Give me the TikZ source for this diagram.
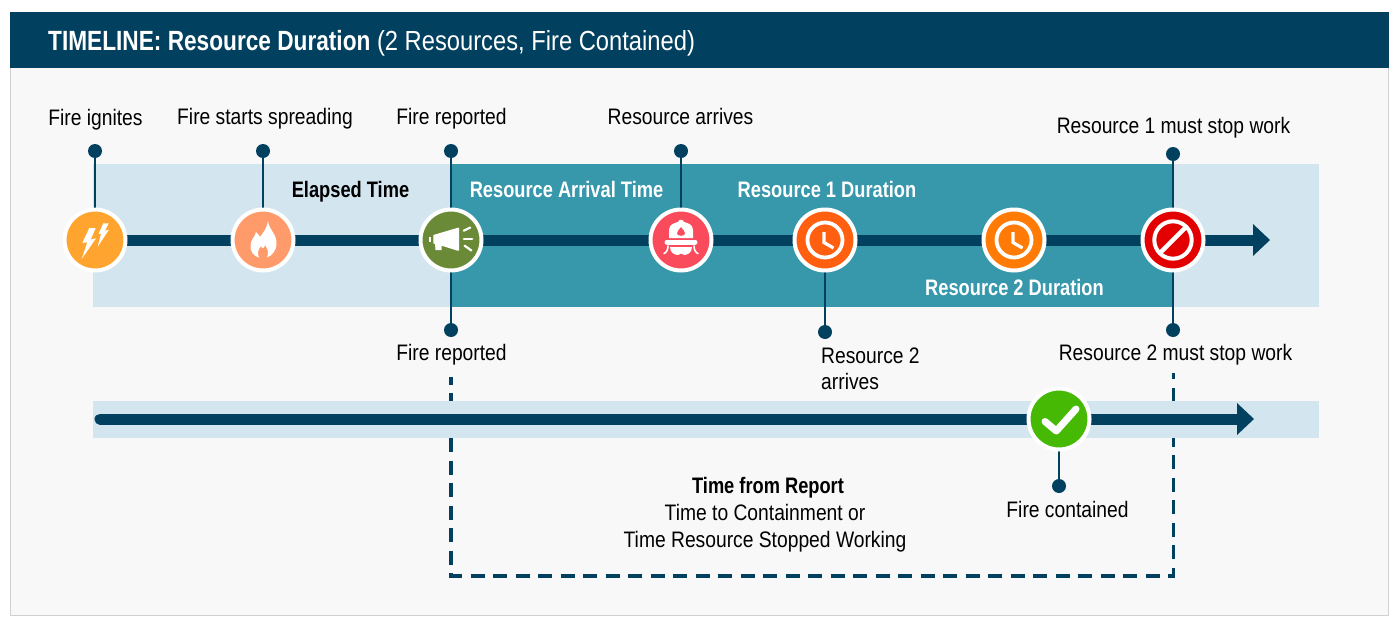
\documentclass[tikz,border=0pt]{standalone}
\usepackage{fontspec}
\setmainfont[FakeStretch=0.86]{Liberation Sans}
\newfontfamily\bcfont[FakeStretch=0.815]{Liberation Sans Bold}
\definecolor{navy}{HTML}{02405F}
\definecolor{panel}{HTML}{F8F8F8}
\definecolor{bandlight}{HTML}{D3E5EF}
\definecolor{bandteal}{HTML}{3797AB}
\definecolor{cOrange}{HTML}{FFA52F}
\definecolor{cFlame}{HTML}{FF9A6B}
\definecolor{cOlive}{HTML}{6A8A37}
\definecolor{cHelmet}{HTML}{F94B5C}
\definecolor{cClockA}{HTML}{FF5F0F}
\definecolor{cClockB}{HTML}{FF7B06}
\definecolor{cStop}{HTML}{E30000}
\definecolor{cCheck}{HTML}{46B905}
\tikzset{
  x=1pt,y=-1pt,
  evt/.style={circle,fill=#1,draw=white,line width=4pt,minimum size=61pt,inner sep=0pt},
  dot/.style={circle,fill=navy,minimum size=14pt,inner sep=0pt},
  lbl/.style={font=\fontsize{22.4}{26}\selectfont,inner sep=0pt,text=black,anchor=base},
  lblb/.style={lbl,font=\fontsize{22.4}{26}\bcfont\selectfont},
  lblw/.style={lblb,text=white},
  conn/.style={draw=navy,line width=2.6pt},
  axisline/.style={draw=navy,line width=11pt},
  dashline/.style={draw=navy,line width=3.5pt,dash pattern=on 14pt off 8.5pt,dash phase=6.5pt},
  ic/.style={fill=white,draw=none},
  icl/.style={draw=white,line cap=round,line join=round},
}
\begin{document}
\begin{tikzpicture}
\useasboundingbox (0,0) rectangle (1400,624);
\fill[white] (0,0) rectangle (1400,624);
\draw[fill=panel,draw=black!18,line width=1pt] (10.5,12.5) rectangle (1388,615);
\fill[navy] (10,12) rectangle (1388.5,68);
\node[anchor=base west,inner sep=0pt,text=white,font=\fontsize{27.6}{30}\selectfont] (title) at (48,50) {{\fontsize{27.8}{30}\bcfont\selectfont TIMELINE: Resource Duration} (2 Resources, Fire Contained)};
% anchors
\coordinate (a1s) at (95,240);
\coordinate (a1e) at (1254,240);
\coordinate (a1t) at (1270,240);
\coordinate (a2s) at (100,419);
\coordinate (a2e) at (1238,419);
\coordinate (a2t) at (1254,419);
\coordinate (dL) at (451,377);
\coordinate (dLb) at (451,576);
\coordinate (dRb) at (1173.5,576);
\coordinate (dR) at (1173.5,372.7);
% dashed
\draw[dashline] (dL) -- (dLb) -- (dRb) -- (dR);
% bands
\fill[bandlight] (93,164) rectangle (1319,307);
\fill[bandteal] (451,164) rectangle (1173,307);
\fill[bandlight] (93,401) rectangle (1319,438);
% axes
\draw[axisline] (a1s) -- (a1e);
\fill[navy] (1253,224) -- (a1t) -- (1253,256) -- cycle;
\draw[axisline,line cap=round] (a2s) -- (a2e);
\fill[navy] (1237,403) -- (a2t) -- (1237,435) -- cycle;
% dots
\node[dot] (d1) at (95,151) {};
\node[dot] (d2) at (263,151) {};
\node[dot] (d3) at (451,151) {};
\node[dot] (d4) at (681,151) {};
\node[dot] (d5) at (1173,154) {};
\node[dot] (d6) at (451,330) {};
\node[dot] (d7) at (825,332) {};
\node[dot] (d8) at (1173,330) {};
\node[dot] (d9) at (1059,486) {};
% events
\coordinate (e1c) at (95,240);
\coordinate (e2c) at (263,240);
\coordinate (e3c) at (451,240);
\coordinate (e4c) at (681,240);
\coordinate (e5c) at (825,240);
\coordinate (e6c) at (1014,240);
\coordinate (e7c) at (1173,240);
\coordinate (e8c) at (1059,419);
\draw[conn] (d1) -- (e1c);
\draw[conn] (d2) -- (e2c);
\draw[conn] (d3) -- (e3c);
\draw[conn] (d4) -- (e4c);
\draw[conn] (d5) -- (e7c);
\draw[conn] (d6) -- (e3c);
\draw[conn] (d7) -- (e5c);
\draw[conn] (d8) -- (e7c);
\draw[conn] (d9) -- (e8c);
\node[evt=cOrange] (e1) at (e1c) {};
\node[evt=cFlame] (e2) at (e2c) {};
\node[evt=cOlive] (e3) at (e3c) {};
\node[evt=cHelmet] (e4) at (e4c) {};
\node[evt=cClockA] (e5) at (e5c) {};
\node[evt=cClockB] (e6) at (e6c) {};
\node[evt=cStop] (e7) at (e7c) {};
\node[evt=cCheck] (e8) at (e8c) {};
% bolt
\begin{scope}[shift={(95,240)}]
\fill[ic] (-5.7,-12) -- (-12.7,3) -- (-7.7,2.3) -- (-13.3,19) -- (1,-1.7) -- (-4.3,-.3) -- (.7,-12) -- cycle;
\fill[ic] (8.3,-16.7) -- (3.5,-6) -- (6,-6.5) -- (2.7,6.7) -- (14,-10.3) -- (10,-9.3) -- (13.7,-16.7) -- cycle;
\end{scope}
% flame
\begin{scope}[shift={(263,240)}]
\fill[ic] (5,-19) .. controls (6,-10) and (14,-6) .. (13.5,4) .. controls (13,12) and (8,16) .. (4,17.5) .. controls (6,13) and (5,9) .. (2,5) .. controls (1,9) and (-1,9) .. (-2,6) .. controls (-5,10) and (-6,13) .. (-4,17.5) .. controls (-10,16) and (-13,11) .. (-12.5,5) .. controls (-12,-1) and (-8,-3) .. (-7,-8) .. controls (-5,-6) and (-4,-5) .. (-3,-3) .. controls (0,-7) and (4,-12) .. (5,-19) -- cycle;
\end{scope}
% megaphone
\begin{scope}[shift={(451,240)}]
\fill[ic] (-17.7,-5) -- (6,-12) -- (7,-12.5) -- (8,-12) -- (8,10.5) -- (6,10.5) -- (-9.3,5.7) -- (-9.3,10) -- (-15.5,10) -- (-16,4) -- (-17.7,3.5) -- cycle;
\fill[ic] (-21.7,-3) rectangle (-19.7,2);
\draw[icl,line width=2.2pt] (12.8,-9.3) -- (19.2,-12.5);
\draw[icl,line width=2.2pt] (12.8,-1) -- (21.2,-1);
\draw[icl,line width=2.2pt] (13.6,5.7) -- (20.4,10.5);
\end{scope}
% helmet
\begin{scope}[shift={(681,240)}]
\fill[ic] (-12,-2) -- (-12,-10) .. controls (-12,-16) and (-6,-17) .. (-3,-18) .. controls (-2,-21) and (2,-21) .. (3,-18) .. controls (6,-17) and (12,-16) .. (12,-10) -- (12,-2) -- cycle;
\fill[cHelmet] (0,-13) .. controls (2,-10) and (4,-9) .. (4,-6.5) .. controls (4,-3.5) and (-4,-3.5) .. (-4,-6.5) .. controls (-4,-9) and (-2,-10) .. (0,-13) -- cycle;
\draw[icl,line width=5pt] (-14,2) -- (14,2);
\fill[ic] (-11,7) -- (11,7) .. controls (11,13) and (6,15) .. (3,15) .. controls (1,13) and (-1,13) .. (-3,15) .. controls (-6,15) and (-11,13) .. (-11,7) -- cycle;
\draw[icl,line width=1.6pt] (-13,6) .. controls (-13,10) and (-15,13) .. (-17,13.5);
\draw[icl,line width=1.6pt] (13,6) .. controls (13,10) and (15,13) .. (17,13.5);
\end{scope}
% clocks
\foreach \cx in {825,1014}{
\begin{scope}[shift={(\cx,240)}]
\draw[draw=white,line width=3.8pt] (0,0) circle[radius=17.5];
\draw[icl,line width=3.2pt,line cap=butt,line join=miter] (-1,-8) -- (-1,2.5) -- (8.5,8);
\end{scope}}
% stop
\begin{scope}[shift={(1173,240)}]
\draw[draw=white,line width=4pt] (0,0) circle[radius=18.7];
\draw[draw=white,line width=4.5pt] (-13.2,13.2) -- (13.2,-13.2);
\end{scope}
% check
\begin{scope}[shift={(1059,419)}]
\draw[icl,line width=7pt] (-14,2.5) -- (-2.7,12) -- (17,-10);
\end{scope}
% labels
\node[lbl] (l1) at (95.5,125) {Fire ignites};
\node[lbl] (l2) at (265,124) {Fire starts spreading};
\node[lbl] (l3) at (451.5,124) {Fire reported};
\node[lbl] (l4) at (680.5,124) {Resource arrives};
\node[lbl] (l5) at (1173.5,133.5) {Resource 1 must stop work};
\node[lbl] (l6) at (451.5,360) {Fire reported};
\node[lbl,anchor=base west] (l7a) at (821,363.5) {Resource 2};
\node[lbl,anchor=base west] (l7b) at (821,389.5) {arrives};
\node[lbl] (l8) at (1175.5,360) {Resource 2 must stop work};
\node[lbl] (l9) at (1067.5,517.5) {Fire contained};
\node[lblb,text=black] (h1) at (350.5,197) {Elapsed Time};
\node[lblw] (h2) at (566.5,197) {Resource Arrival Time};
\node[lblw] (h3) at (827,197) {Resource 1 Duration};
\node[lblw] (h4) at (1014.5,295) {Resource 2 Duration};
\node[lblb,text=black] (h5) at (768,493) {Time from Report};
\node[lbl] (h6a) at (765,520.5) {Time to Containment or};
\node[lbl] (h6b) at (765,547.5) {Time Resource Stopped Working};
\end{tikzpicture}
\end{document}
